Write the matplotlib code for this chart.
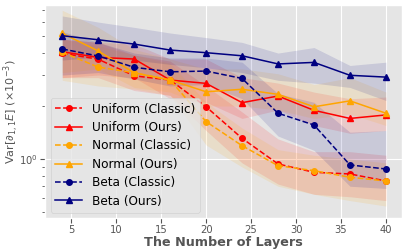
import numpy as np
import matplotlib
matplotlib.use('Agg')
import matplotlib.pyplot as plt
from matplotlib.ticker import NullFormatter

plt.style.use('ggplot')

layers = [4, 8, 12, 16, 20, 24, 28, 32, 36, 40]

uniform_classic = [3.99, 3.69, 2.97, 2.81, 1.98, 1.31, 0.937, 0.840, 0.822, 0.75]
uniform_ours = [4.07, 3.78, 3.70, 2.81, 2.69, 2.09, 2.28, 1.89, 1.70, 1.78]
normal_classic = [4.04, 3.33, 3.09, 2.81, 1.63, 1.19, 0.916, 0.858, 0.787, 0.75]
normal_ours = [5.18, 4.11, 3.09, 2.81, 2.41, 2.49, 2.33, 1.98, 2.14, 1.82]
beta_classic = [4.22, 3.85, 3.32, 3.13, 3.16, 2.87, 1.82, 1.56, 0.925, 0.877]
beta_ours = [5.02, 4.76, 4.50, 4.16, 4.02, 3.86, 3.47, 3.54, 2.99, 2.92]

# shaded band bounds (lower, upper)
uniform_classic_lo = [2.90, 2.90, 2.45, 2.30, 1.45, 0.95, 0.72, 0.63, 0.61, 0.58]
uniform_classic_hi = [4.80, 4.60, 3.90, 3.60, 2.60, 1.85, 1.30, 1.10, 1.10, 1.05]
uniform_ours_lo = [2.90, 3.00, 2.90, 2.20, 2.10, 1.70, 1.90, 1.55, 1.40, 1.45]
uniform_ours_hi = [4.80, 4.60, 4.50, 3.70, 3.70, 2.90, 2.70, 2.40, 2.20, 2.25]
normal_classic_lo = [2.80, 2.60, 2.50, 2.30, 1.20, 0.90, 0.70, 0.63, 0.58, 0.54]
normal_classic_hi = [4.80, 4.40, 3.90, 3.50, 2.10, 1.50, 1.13, 1.05, 1.00, 0.95]
normal_ours_lo = [3.10, 3.25, 2.55, 2.40, 2.00, 2.00, 1.90, 1.70, 1.80, 1.55]
normal_ours_hi = [7.00, 5.60, 4.20, 3.70, 3.25, 3.25, 3.05, 2.65, 2.90, 2.40]
beta_classic_lo = [3.00, 3.10, 2.85, 2.60, 2.65, 2.20, 1.35, 1.12, 0.70, 0.68]
beta_classic_hi = [5.30, 4.60, 4.00, 3.75, 3.75, 3.55, 2.35, 2.10, 1.42, 1.45]
beta_ours_lo = [3.65, 3.80, 3.65, 3.45, 3.30, 3.10, 2.80, 2.70, 2.55, 2.15]
beta_ours_hi = [6.50, 6.00, 5.60, 5.20, 4.90, 4.60, 4.00, 4.30, 3.40, 3.55]

series = [
    ('Uniform (Classic)', uniform_classic, uniform_classic_lo, uniform_classic_hi, 'red', '--', 'o'),
    ('Uniform (Ours)', uniform_ours, uniform_ours_lo, uniform_ours_hi, 'red', '-', '^'),
    ('Normal (Classic)', normal_classic, normal_classic_lo, normal_classic_hi, 'orange', '--', 'o'),
    ('Normal (Ours)', normal_ours, normal_ours_lo, normal_ours_hi, 'orange', '-', '^'),
    ('Beta (Classic)', beta_classic, beta_classic_lo, beta_classic_hi, 'navy', '--', 'o'),
    ('Beta (Ours)', beta_ours, beta_ours_lo, beta_ours_hi, 'navy', '-', '^'),
]

fig = plt.figure(figsize=(4.07, 2.52), dpi=100)
ax = fig.add_axes([0.111, 0.135, 0.877, 0.845])

for label, y, lo, hi, c, ls, m in series:
    ax.fill_between(layers, lo, hi, color=c, alpha=0.12, linewidth=0)
    ax.plot(layers, y, color=c, linestyle=ls, marker=m, markersize=4,
            linewidth=1.1, label=label)

ax.set_yscale('log')
ax.set_ylim(0.462, 7.5)
ax.set_xlim(2.1, 41.8)
ax.set_xticks([5, 10, 15, 20, 25, 30, 35, 40])
ax.yaxis.set_minor_formatter(NullFormatter())
ax.tick_params(labelsize=7.2, pad=1.5)
ax.tick_params(which='minor', length=2)
ax.set_xlabel('The Number of Layers', fontsize=9.2, fontweight='bold', labelpad=1)
ax.set_ylabel(r'Var$[\partial_{1,1}E]$ ($\times 10^{-3}$)', fontsize=8.1)
ax.yaxis.set_label_coords(-0.069, 0.5)
ax.legend(loc='lower left', fontsize=8.7, handlelength=2.2, borderaxespad=0.45,
          labelspacing=0.45)

plt.savefig('out.png', dpi=100)
